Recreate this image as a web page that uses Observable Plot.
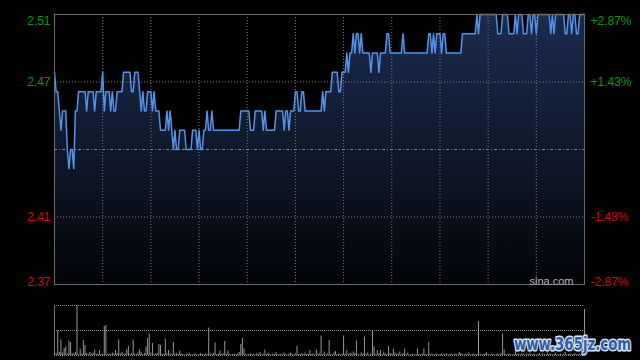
<!DOCTYPE html>
<html><head><meta charset="utf-8">
<script src="https://cdn.jsdelivr.net/npm/d3@7"></script>
<script src="https://cdn.jsdelivr.net/npm/@observablehq/plot@0.6"></script>
<style>
html,body{margin:0;padding:0;background:#000;}
#wrap{position:relative;width:640px;height:360px;background:#000;overflow:hidden;}
#wrap > svg{position:absolute;left:0;}
</style></head><body><div id="wrap"></div>
<script>
// per-minute last price (09:30-12:00, 13:00-16:00 → 330 minutes)
const prices = [
2.48,2.47,2.47,2.46,2.45,2.46,2.46,2.46,2.44,2.43,
2.44,2.44,2.43,2.46,2.46,2.47,2.47,2.47,2.47,2.47,
2.46,2.47,2.47,2.47,2.47,2.46,2.47,2.47,2.47,2.47,
2.48,2.46,2.47,2.47,2.47,2.46,2.47,2.46,2.46,2.47,
2.47,2.47,2.47,2.48,2.48,2.48,2.48,2.48,2.47,2.47,
2.48,2.48,2.48,2.47,2.46,2.47,2.46,2.46,2.47,2.47,
2.47,2.46,2.47,2.46,2.46,2.46,2.45,2.45,2.45,2.45,
2.46,2.45,2.46,2.45,2.44,2.45,2.44,2.44,2.45,2.45,
2.45,2.45,2.44,2.44,2.44,2.44,2.45,2.45,2.45,2.44,
2.45,2.44,2.44,2.45,2.45,2.46,2.45,2.45,2.46,2.45,
2.45,2.45,2.45,2.45,2.45,2.45,2.45,2.45,2.45,2.45,
2.45,2.45,2.45,2.45,2.45,2.45,2.46,2.46,2.46,2.46,
2.46,2.46,2.45,2.45,2.45,2.46,2.46,2.46,2.46,2.46,
2.45,2.46,2.45,2.45,2.45,2.45,2.45,2.45,2.46,2.46,
2.46,2.46,2.46,2.45,2.46,2.46,2.45,2.46,2.46,2.46,
2.47,2.47,2.46,2.46,2.47,2.47,2.46,2.46,2.46,2.46,
2.46,2.46,2.46,2.46,2.46,2.46,2.46,2.47,2.46,2.47,
2.47,2.47,2.47,2.48,2.48,2.48,2.48,2.47,2.47,2.48,
2.48,2.48,2.49,2.48,2.49,2.49,2.50,2.49,2.50,2.50,
2.49,2.50,2.49,2.49,2.49,2.49,2.49,2.48,2.49,2.49,
2.49,2.49,2.48,2.49,2.49,2.49,2.49,2.50,2.50,2.49,
2.49,2.49,2.49,2.49,2.49,2.49,2.49,2.50,2.49,2.49,
2.49,2.49,2.49,2.49,2.49,2.49,2.49,2.49,2.49,2.49,
2.49,2.49,2.49,2.50,2.50,2.49,2.50,2.49,2.50,2.50,
2.50,2.49,2.50,2.50,2.49,2.49,2.49,2.49,2.49,2.49,
2.49,2.49,2.49,2.49,2.50,2.50,2.50,2.50,2.50,2.50,
2.50,2.50,2.50,2.51,2.50,2.51,2.51,2.51,2.51,2.51,
2.51,2.51,2.51,2.51,2.51,2.51,2.50,2.50,2.50,2.51,
2.51,2.51,2.51,2.50,2.50,2.50,2.50,2.51,2.50,2.51,
2.51,2.51,2.50,2.50,2.50,2.51,2.51,2.50,2.51,2.51,
2.50,2.51,2.51,2.51,2.51,2.51,2.51,2.51,2.51,2.50,
2.51,2.50,2.51,2.51,2.51,2.51,2.51,2.51,2.50,2.50,
2.51,2.51,2.50,2.51,2.51,2.50,2.50,2.51,2.51,2.51,
2.51
];
// per-minute volume (relative, max = 100)
const volumes = [
28,4,49,6,31,5,14,17,3,29,
26,4,3,6,100,2,13,3,30,20,
4,2,6,3,5,11,2,3,10,2,
3,58,60,2,3,2,5,3,10,4,
31,3,6,2,3,11,18,2,4,31,
3,2,5,11,6,2,4,17,34,43,
5,24,2,3,4,22,20,3,2,33,
4,10,3,2,26,3,4,2,9,3,
2,1,3,2,4,2,1,3,2,1,
2,4,2,1,3,2,55,3,2,4,
25,2,3,9,2,4,28,3,9,2,
1,3,2,1,3,6,22,34,13,2,
1,2,3,1,2,1,4,2,6,1,
3,11,2,5,2,1,3,2,6,1,
2,3,1,5,2,1,3,5,2,1,
3,18,2,1,4,2,5,2,3,10,
2,4,1,11,3,3,39,2,7,1,
3,30,2,1,5,8,2,3,1,3,
39,3,10,2,5,3,7,4,29,2,
1,5,3,37,2,5,1,3,50,17,
2,10,4,10,2,7,3,2,18,4,
3,13,5,2,3,7,2,4,13,2,
5,1,2,3,1,2,13,2,1,3,
13,2,1,26,2,3,1,2,3,1,
2,3,1,2,4,1,2,3,1,2,
3,1,6,4,2,1,3,2,5,1,
2,3,1,2,68,3,1,2,3,6,
2,1,3,2,1,2,3,1,4,43,
11,2,1,3,2,1,2,13,2,3,
1,4,2,1,3,2,5,1,2,3,
1,2,4,1,3,2,1,5,2,3,
1,2,4,1,2,3,1,2,6,1,
2,3,1,2,4,1,2,3,1,2,
92
];
const prevClose = 2.44;
const priceDomain = [2.37, 2.51];
const priceTicks = [2.51, 2.475, 2.405, 2.37];
const priceLabels = ["2.51", "2.47", "2.41", "2.37"];
const pctLabels = ["+2.87%", "+1.43%", "-1.43%", "-2.87%"];
const timeDomain = [0, 330];
const timeGrid = [30, 60, 90, 120, 150, 180, 210, 240, 270, 300];
const volGrid = [0, 50, 100];
const source = "sina.com";
const watermark = "www.365jz.com";

const data = prices.map((p, i) => ({m: i, p}));
const vdata = volumes.map((v, i) => ({m: i, v}));
const GREEN = "#009c00", RED = "#dc0000";
const font = "'Liberation Sans', Arial, sans-serif";

const defs = () => {
  const g = d3.create("svg:defs");
  const lg = g.append("linearGradient").attr("id", "pg")
    .attr("x1", 0).attr("y1", 0).attr("x2", 0).attr("y2", 1);
  lg.append("stop").attr("offset", "0%").attr("stop-color", "#1a2c4c");
  lg.append("stop").attr("offset", "55%").attr("stop-color", "#0e1729");
  lg.append("stop").attr("offset", "100%").attr("stop-color", "#030407");
  return g.node();
};

function labels(idx, anchor, color, dy) {
  return [
    Plot.text(idx, {y: i => priceTicks[i], text: i => priceLabels[i], frameAnchor: "left",
      textAnchor: "end", dx: -4, dy, lineAnchor: anchor, fill: color, fontSize: 12}),
    Plot.text(idx, {y: i => priceTicks[i], text: i => pctLabels[i], frameAnchor: "right",
      textAnchor: "start", dx: 6, dy, lineAnchor: anchor, fill: color, fontSize: 12})
  ];
}

const main = Plot.plot({
  width: 640, height: 290,
  marginLeft: 54, marginRight: 56, marginTop: 14, marginBottom: 6,
  style: {background: "none", fontFamily: font, fontSize: "12px"},
  x: {domain: timeDomain, axis: null},
  y: {domain: priceDomain, axis: null},
  marks: [
    defs,
    Plot.areaY(data, {x: "m", y1: priceDomain[0], y2: "p", fill: "url(#pg)"}),
    Plot.ruleX(timeGrid, {stroke: "#7c7c7c", strokeDasharray: "1,2"}),
    Plot.ruleY(priceTicks.slice(1, 3), {stroke: "#7c7c7c", strokeDasharray: "1,2"}),
    Plot.ruleY([prevClose], {stroke: "#8a8a8a", strokeDasharray: "3,2,1,2"}),
    Plot.lineY(data, {x: "m", y: "p", stroke: "#5293ec", strokeWidth: 1.5}),
    Plot.frame({stroke: "#6c6c6c"}),
    ...labels([0], "top", GREEN, 2),
    ...labels([1], "middle", GREEN, 0),
    ...labels([2], "middle", RED, 0),
    ...labels([3], "bottom", RED, 1),
    Plot.text([source], {text: d => d, frameAnchor: "bottom-right", textAnchor: "end",
      lineAnchor: "bottom", dx: -11, dy: 0, fill: "#b4b4b4", fontSize: 11})
  ]
});
main.style.top = "0px";

const vol = Plot.plot({
  width: 640, height: 70,
  marginLeft: 54, marginRight: 56, marginTop: 15, marginBottom: 5,
  style: {background: "none"},
  x: {domain: timeDomain, axis: null},
  y: {domain: [0, 100], axis: null},
  marks: [
    Plot.ruleY(volGrid, {stroke: "#8c8c8c", strokeDasharray: "1,1"}),
    Plot.ruleX(vdata, {x: "m", y1: 0, y2: "v", stroke: "#959595"}),
    Plot.ruleX([timeDomain[0]], {stroke: "#7a7a7a"})
  ]
});
vol.style.top = "290px";

const wrap = document.getElementById("wrap");
wrap.appendChild(main);
wrap.appendChild(vol);

// watermark overlay (horizontally condensed bold text)
const wm = d3.create("svg").attr("width", 640).attr("height", 360)
  .style("position", "absolute").style("left", "0px").style("top", "0px");
wm.append("g").attr("transform", "translate(514,350) scale(0.74,1)")
  .append("text").attr("x", 0).attr("y", 0)
  .attr("font-family", "'DejaVu Sans', sans-serif").attr("font-weight", "bold")
  .attr("font-size", 18).attr("fill", "#2b5fae")
  .attr("stroke", "#dfe7f3").attr("stroke-width", 3).attr("paint-order", "stroke")
  .attr("stroke-linejoin", "round")
  .text(watermark);
wrap.appendChild(wm.node());
</script>
</body></html>
